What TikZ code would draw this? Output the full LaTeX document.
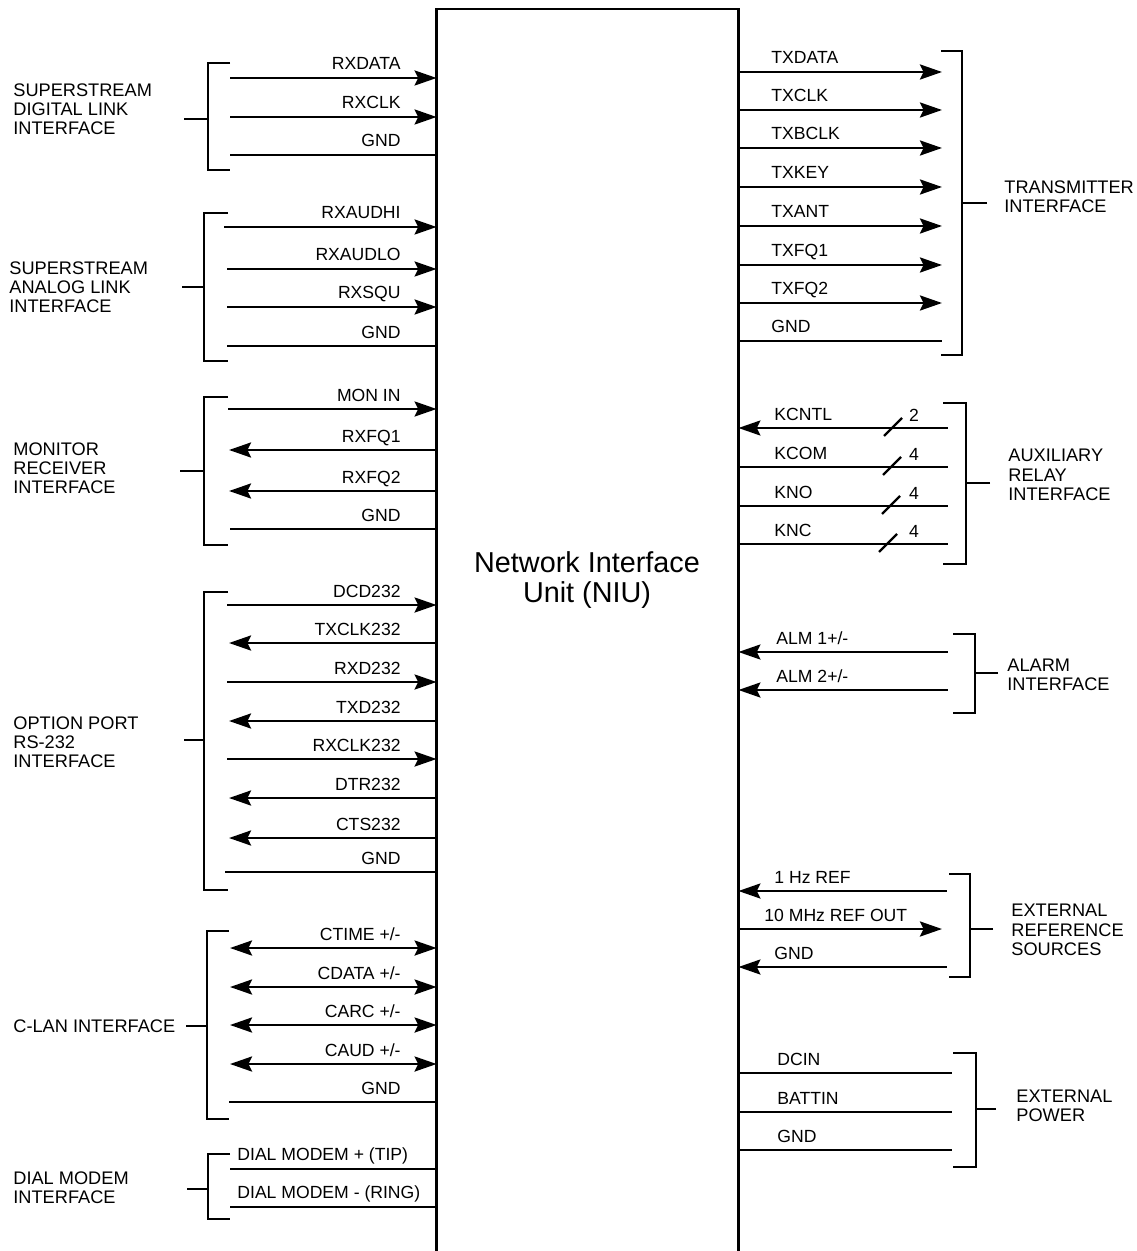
\documentclass[tikz,border=0pt]{standalone}
\usepackage{fontspec}
\setmainfont{Liberation Sans}
\usetikzlibrary{arrows.meta,positioning}

\begin{document}
\begin{tikzpicture}[x=0.5pt,y=-0.5pt,>={Stealth[length=11pt,width=7.5pt,inset=1.8pt]},line width=1.4pt]
  \tikzstyle{sig}=[font=\fontsize{8.8}{9.5}\selectfont,inner sep=0pt]
  \tikzstyle{grp}=[font=\fontsize{9.1}{9.6}\selectfont,inner sep=0pt,align=left,anchor=west]
  \tikzstyle{bus}=[line width=1.1pt]
  \useasboundingbox (0,0) rectangle (1136,1251);
  % the unit, open at the bottom
  \node[minimum width=149.5pt,minimum height=640pt,inner sep=0pt,anchor=north] (niu) at (587.5,9) {};
  \draw (niu.south west) |- (niu.north) -| (niu.south east);
  \node[font=\fontsize{14.4}{15}\selectfont,align=center] (title) at (587,580) {Network Interface\\Unit (NIU)};
  % left side signals
  \foreach \x/\y/\lab/\tip in {230/78/RXDATA/->, 230/117/RXCLK/->, 230/155/GND/-,
      224/227/RXAUDHI/->, 227/269/RXAUDLO/->, 227/307/RXSQU/->, 227/346/GND/-,
      228/409/MON IN/->, 229/450/RXFQ1/<-, 229/491/RXFQ2/<-, 230/529/GND/-,
      227/605/DCD232/->, 229/643/TXCLK232/<-, 227/682/RXD232/->, 229/721/TXD232/<-,
      227/759/RXCLK232/->, 229/798/DTR232/<-, 229/838/CTS232/<-, 225/872/GND/-,
      230/948/{CTIME +/-}/<->, 230/987/{CDATA +/-}/<->, 230/1025/{CARC +/-}/<->,
      230/1064/{CAUD +/-}/<->, 229/1102/GND/-}{
    \coordinate (l\y) at (\x,\y);
    \draw[\tip] (l\y) -- (niu.west |- l\y);
    \node[sig,anchor=base east] (tl\y) at (402,\y-8) {\lab};
  }
  \foreach \y/\lab in {1169/{DIAL MODEM + (TIP)}, 1207/{DIAL MODEM - (RING)}}{
    \coordinate (l\y) at (230,\y);
    \draw (l\y) -- (niu.west |- l\y);
    \node[sig,anchor=base west] (tl\y) at (236,\y-9) {\lab};
  }
  % right side signals
  \foreach \x/\y/\lx/\lab/\tip in {942/72/770/TXDATA/->, 942/110/770/TXCLK/->, 942/148/770/TXBCLK/->,
      942/187/770/TXKEY/->, 942/226/770/TXANT/->, 942/265/770/TXFQ1/->, 942/303/770/TXFQ2/->,
      942/341/770/GND/-,
      948/428/773/KCNTL/<-, 948/467/773/KCOM/-, 948/506/773/KNO/-, 948/544/773/KNC/-,
      948/652/775/{ALM 1+/-}/<-, 948/690/775/{ALM 2+/-}/<-,
      947/891/773/1 Hz REF/<-, 942/929/763/10 MHz REF OUT/->, 947/967/773/GND/<-,
      952/1073/776/DCIN/-, 952/1112/776/BATTIN/-, 952/1150/776/GND/-}{
    \coordinate (r\y) at (\x,\y);
    \draw[\tip] (niu.east |- r\y) -- (r\y);
    \node[sig,anchor=base west] (tr\y) at (\lx,\y-8) {\lab};
  }
  % bus width marks on the relay lines
  \foreach \y/\sx/\n in {428/893/2, 467/892/4, 506/891/4, 544/888/4}{
    \draw[bus] (\sx-9,\y+8) -- (\sx+9,\y-10);
    \node[sig] (n\y) at (914,\y-13) {\n};
  }
  % brackets
  \foreach \bx/\ya/\yb/\tx/\sx/\sy in {208/63/170/230/184/119, 204/213/361/228/182/287,
      204/397/545/228/180/471, 204/592/890/228/184/740, 207/931/1119/229/186/1026,
      208/1154/1219/230/187/1189,
      962/51/355/941/987/203, 966/403/564/943/990/483, 975/634/713/953/998/673,
      970/874/977/949/993/929, 976/1053/1167/953/996/1109}{
    \draw (\tx,\ya) -| (\bx,\yb) -- (\tx,\yb);
    \draw (\sx,\sy) -- (\bx,\sy);
  }
  % group names
  \node[grp] (sdl) at (12,109) {SUPERSTREAM\\DIGITAL LINK\\INTERFACE};
  \node[grp] (sal) at (8,287) {SUPERSTREAM\\ANALOG LINK\\INTERFACE};
  \node[grp] (mon) at (12,468) {MONITOR\\RECEIVER\\INTERFACE};
  \node[grp] (opt) at (12,742) {OPTION PORT\\RS-232\\INTERFACE};
  \node[grp] (clan) at (12,1026) {C-LAN INTERFACE};
  \node[grp] (dial) at (12,1188) {DIAL MODEM\\INTERFACE};
  \node[grp] (tx) at (1003,197) {TRANSMITTER\\INTERFACE};
  \node[grp] (aux) at (1007,475) {AUXILIARY\\RELAY\\INTERFACE};
  \node[grp] (alm) at (1006,675) {ALARM\\INTERFACE};
  \node[grp] (ref) at (1010,930) {EXTERNAL\\REFERENCE\\SOURCES};
  \node[grp] (pwr) at (1015,1106) {EXTERNAL\\POWER};
\end{tikzpicture}
\end{document}
